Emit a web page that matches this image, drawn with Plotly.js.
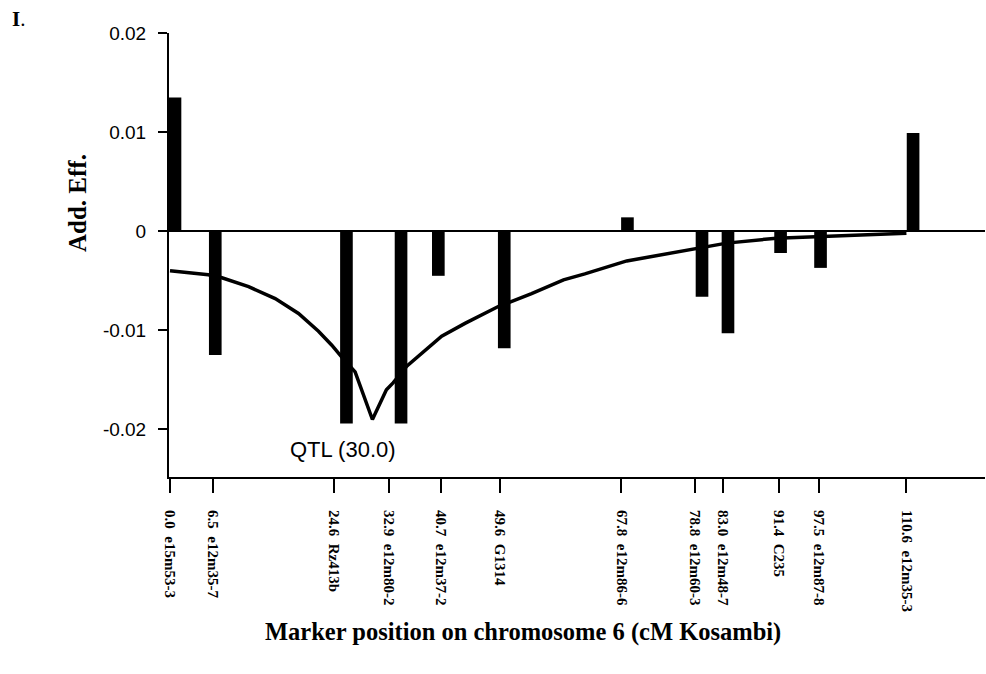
<!DOCTYPE html>
<html>
<head>
<meta charset="utf-8">
<script src="https://cdn.plot.ly/plotly-3.0.1.min.js"></script>
<style>html,body{margin:0;padding:0;background:#fff;}#chart{width:986px;height:674px;}</style>
</head>
<body>
<div id="chart"></div>
<script>
// Marker positions (cM) and names on chromosome 6
var markerPos = [0.0, 6.5, 24.6, 32.9, 40.7, 49.6, 67.8, 78.8, 83.0, 91.4, 97.5, 110.6];
var markerNames = ['e15m53-3', 'e12m35-7', 'Rz413b', 'e12m80-2', 'e12m37-2', 'G1314',
                   'e12m86-6', 'e12m60-3', 'e12m48-7', 'C235', 'e12m87-8', 'e12m35-3'];
// Bar positions as drawn and additive effects
var barPos = [0.75, 6.8, 26.5, 34.7, 40.3, 50.2, 68.7, 79.9, 83.8, 91.7, 97.7, 111.6];
var addEff = [0.0135, -0.0125, -0.0194, -0.0194, -0.0045, -0.0118, 0.0014, -0.0066, -0.0103, -0.0022, -0.0037, 0.0099];
// QTL additive effect curve
var curvePos = [0, 5.75, 7.8, 11.8, 15.8, 19.3, 22.3, 24.3, 25.8, 27.8, 30.4, 32.5, 33.5, 35.6, 40.8, 44.3, 49.3, 54.3, 59.1, 62.3, 68.6, 78.6, 83.6, 91.1, 101.1, 110.6];
var curveVal = [-0.0040, -0.0044, -0.0047, -0.0056, -0.0068, -0.0083, -0.0101, -0.0115, -0.0127, -0.0142, -0.0190, -0.0160, -0.0153, -0.0136, -0.0106, -0.0093, -0.0076, -0.0063, -0.0049, -0.0043, -0.0030, -0.0018, -0.0012, -0.0007, -0.0004, -0.0002];
var yTicks = [0.02, 0.01, 0, -0.01, -0.02];
var yTickText = ['0.02', '0.01', '0', '-0.01', '-0.02'];
var qtlLabel = 'QTL (30.0)';
var qtlPos = 30.0;

var tickText = markerPos.map(function (p, i) { return p.toFixed(1) + '  ' + markerNames[i]; });
var serif = 'Liberation Serif, Times New Roman, serif';
var sans = 'Liberation Sans, Arial, sans-serif';

var traces = [
  {
    type: 'bar', x: barPos, y: addEff, width: 1.9,
    marker: {color: '#000', line: {width: 0}}, hoverinfo: 'x+y'
  },
  {
    type: 'scatter', mode: 'lines', x: curvePos, y: curveVal,
    line: {color: '#000', width: 3.5}
  }
];

var layout = {
  width: 986, height: 674,
  margin: {l: 169, r: 1, t: 33, b: 197},
  paper_bgcolor: '#fff', plot_bgcolor: '#fff',
  showlegend: false,
  font: {family: sans, color: '#000'},
  xaxis: {
    range: [-0.15, 122.4], showgrid: false, zeroline: false,
    showline: true, linecolor: '#000', linewidth: 2,
    ticks: 'outside', ticklen: 14, tickwidth: 2, tickcolor: '#000',
    tickmode: 'array', tickvals: markerPos, ticktext: tickText, tickangle: 90,
    ticklabelstandoff: 14,
    tickfont: {family: serif, size: 15, color: '#000', weight: 'bold'},
    title: {text: ''}
  },
  yaxis: {
    range: [-0.0248, 0.02], showgrid: false,
    zeroline: true, zerolinecolor: '#000', zerolinewidth: 2,
    showline: true, linecolor: '#000', linewidth: 2,
    ticks: 'outside', ticklen: 9, tickwidth: 2, tickcolor: '#000',
    tickmode: 'array', tickvals: yTicks, ticktext: yTickText,
    ticklabelstandoff: 8,
    tickfont: {family: sans, size: 19, color: '#000'},
    title: {text: ''}
  },
  annotations: [
    {x: qtlPos, y: -0.0220, xref: 'x', yref: 'y', text: qtlLabel, showarrow: false,
     font: {family: sans, size: 22, color: '#000'}, xanchor: 'center', yanchor: 'middle', xshift: -27},
    {xref: 'paper', yref: 'paper', x: -159/816, y: 1 + 14/444, xanchor: 'left', yanchor: 'middle',
     text: '<b>I</b>.', showarrow: false, font: {family: serif, size: 21, color: '#000'}},
    {xref: 'paper', yref: 'paper', x: -92/816, y: (477 - 203)/444, xanchor: 'center', yanchor: 'middle',
     text: '<b>Add. Eff.</b>', textangle: -90, showarrow: false, font: {family: serif, size: 25, color: '#000'}},
    {xref: 'paper', yref: 'paper', x: (523 - 169)/816, y: -(632 - 477)/444, xanchor: 'center', yanchor: 'middle',
     text: '<b>Marker position on chromosome 6 (cM Kosambi)</b>', showarrow: false, font: {family: serif, size: 24.5, color: '#000'}}
  ]
};

Plotly.newPlot('chart', traces, layout, {displayModeBar: false, staticPlot: true});
</script>
</body>
</html>
